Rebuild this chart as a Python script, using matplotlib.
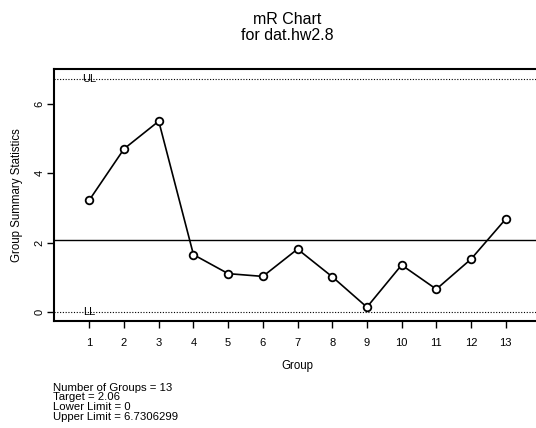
import matplotlib
matplotlib.use("Agg")
from matplotlib import pyplot as plt

groups = list(range(1, 14))
mr = [3.23, 4.71, 5.51, 1.65, 1.10, 1.02, 1.81, 1.01, 0.13, 1.35, 0.65, 1.52, 2.68]
target = 2.06
lower = 0
upper = 6.7306299
yticks = [0, 2, 4, 6]

plt.rcParams['font.family'] = ['Liberation Sans', 'DejaVu Sans']

fig = plt.figure(figsize=(5.36, 4.28), dpi=100)
ax = fig.add_axes([0.1007, 0.25, 0.9075, 0.5888])

ax.plot(groups, mr, color='black', lw=1.2, marker='o', ms=5.5,
        mfc='white', mec='black', mew=1.3)
ax.axhline(target, color='black', lw=1.0)
ax.axhline(upper, color='black', lw=0.8, ls=(0, (1, 1.5)))
ax.axhline(lower, color='black', lw=0.8, ls=(0, (1, 1.5)))
ax.text(1, upper, "UL", ha='center', va='center', fontsize=8)
ax.text(1, lower, "LL", ha='center', va='center', fontsize=8)

ax.set_xlim(-0.02, 14)
ax.set_ylim(-0.27, 7.02)
ax.set_xticks(groups)
ax.set_yticks(yticks)
ax.set_yticklabels([str(v) for v in yticks], rotation=90, va='center')
ax.tick_params(direction='out', length=5, width=1, labelsize=8)
ax.tick_params(axis='x', pad=7)
ax.tick_params(axis='y', pad=2)
ax.spines['right'].set_visible(False)
for s in ['top', 'left', 'bottom']:
    ax.spines[s].set_linewidth(1.5)

ax.set_xlabel("Group", fontsize=8.3, labelpad=9)
ax.set_ylabel("Group Summary Statistics", fontsize=8.3, labelpad=8)

fig.text(0.5355, 1 - 24 / 428, "mR Chart", ha='center', va='baseline', fontsize=11.5)
fig.text(0.5355, 1 - 40 / 428, "for dat.hw2.8", ha='center', va='baseline', fontsize=11.5)

info = ["Number of Groups = %d" % len(groups),
        "Target = %s" % target,
        "Lower Limit = %d" % lower,
        "Upper Limit = %s" % upper]
for i, line in enumerate(info):
    fig.text(0.099, 1 - (391 + 9.5 * i) / 428, line, ha='left', va='baseline',
             fontsize=8.2)

fig.savefig("out.png", dpi=100)
